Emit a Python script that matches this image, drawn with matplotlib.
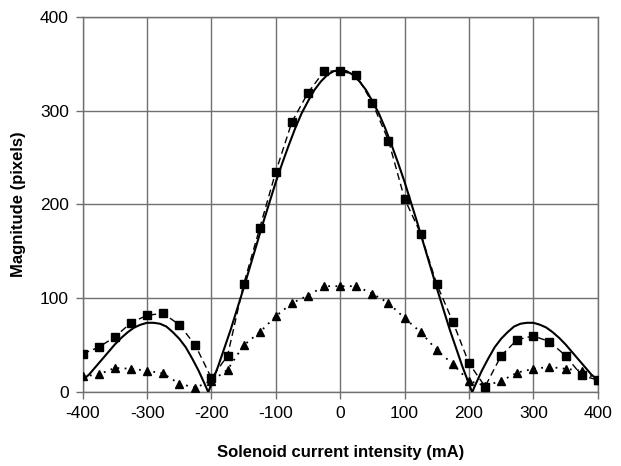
import matplotlib
matplotlib.use("Agg")
import matplotlib.pyplot as plt

plt.rcParams['font.family'] = ['Liberation Sans', 'DejaVu Sans']
plt.rcParams['axes.unicode_minus'] = False

# measured points, every 25 mA
current = [-400, -375, -350, -325, -300, -275, -250, -225, -200, -175, -150,
           -125, -100, -75, -50, -25, 0, 25, 50, 75, 100, 125, 150, 175, 200,
           225, 250, 275, 300, 325, 350, 375, 400]
squares = [41, 48, 59, 74, 82, 84, 72, 50, 15, 39, 115,
           175, 235, 288, 319, 342, 342, 338, 308, 268, 206, 169, 115, 75, 31,
           6, 39, 56, 60, 54, 39, 18, 13]
triangles = [17, 19, 26, 25, 23, 20, 9, 5, 12, 24, 50,
             64, 81, 95, 103, 113, 113, 113, 105, 95, 79, 64, 45, 30, 12,
             7, 12, 21, 25, 27, 25, 23, 13]

# theoretical curve
theory_x = [-400, -390, -380, -370, -360, -350, -340, -330, -320, -310, -300,
            -290, -280, -270, -260, -250, -240, -230, -220, -210, -205, -200,
            -190, -180, -170, -160, -150, -140, -130, -120, -110, -100, -90,
            -80, -70, -60, -50, -40, -30, -20, -10, 0, 10, 20, 30, 40, 50, 60,
            70, 80, 90, 100, 110, 120, 130, 140, 150, 160, 170, 180, 190, 200,
            205, 210, 220, 230, 240, 250, 260, 270, 280, 290, 300, 310, 320,
            330, 340, 350, 360, 370, 380, 390, 400]
theory_y = [13, 19, 27, 35, 43, 51, 58, 64, 69, 72, 74,
            74, 73, 70, 64, 57, 48, 36, 23, 8, 0, 9,
            27, 47, 67, 89, 111, 134, 157, 180, 202, 224, 244,
            263, 281, 297, 310, 322, 331, 338, 342, 343, 342, 338, 331, 322, 310, 297,
            281, 263, 244, 224, 202, 180, 157, 134, 111, 89, 67, 47, 27, 9,
            0, 8, 23, 36, 48, 57, 64, 70, 73, 74, 74, 72, 69,
            64, 58, 51, 43, 35, 27, 19, 13]

fig = plt.figure(figsize=(6.21, 4.66), dpi=100)
ax = fig.add_axes([0.1332, 0.1582, 0.8293, 0.806])

ax.plot(theory_x, theory_y, color='black', lw=1.5, zorder=3)
ax.plot(current, squares, color='black', lw=1, ls=(0, (5, 3)),
        marker='s', ms=6, zorder=4)
ax.plot(current, triangles, color='black', lw=1.3, ls=(0, (1, 3)),
        marker='^', ms=6, zorder=4)

ax.set_xlim(-400, 400)
ax.set_ylim(0, 400)
ax.set_xticks(range(-400, 401, 100))
ax.set_yticks(range(0, 401, 100))
ax.grid(True, color='#707070', lw=1)
ax.set_axisbelow(True)
for s in ax.spines.values():
    s.set_color('#707070')
    s.set_linewidth(1)
ax.tick_params(direction='out', length=5, width=1, color='#707070',
               labelsize=12.5, pad=5)

ax.set_xlabel('Solenoid current intensity (mA)', fontsize=12,
              fontweight='bold', labelpad=17)
ax.set_ylabel('Magnitude (pixels)', fontsize=12, fontweight='bold',
              labelpad=10)

fig.savefig('out.png', dpi=100)
